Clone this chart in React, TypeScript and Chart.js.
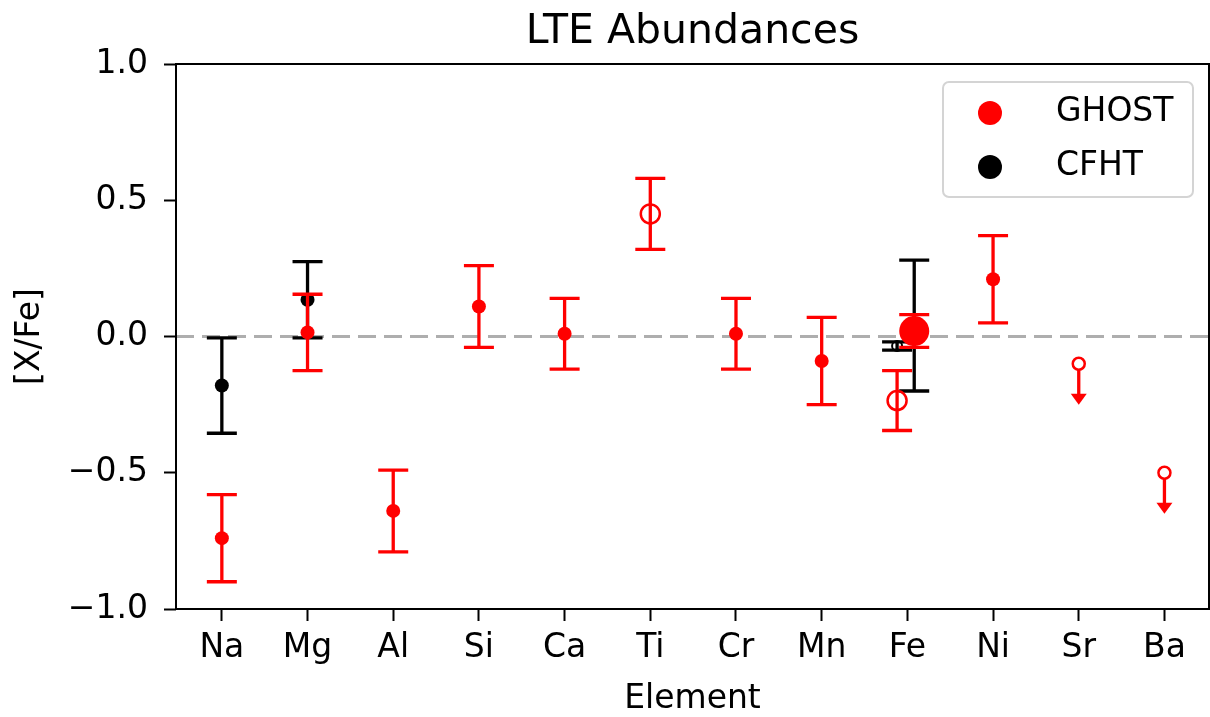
import React, { useEffect, useRef } from "react";
import { Chart, registerables } from "chart.js";

Chart.register(...registerables);

const FONT = "'DejaVu Sans', 'Liberation Sans', sans-serif";

// Categories (x tick labels)
const elements = ["Na", "Mg", "Al", "Si", "Ca", "Ti", "Cr", "Mn", "Fe", "Ni", "Sr", "Ba"];
const yTicks = [-1.0, -0.5, 0.0, 0.5, 1.0];

// GHOST – filled points
const ghostX = [0, 1, 2, 3, 4, 6, 7, 9];
const ghostY = [-0.74, 0.015, -0.64, 0.11, 0.01, 0.01, -0.09, 0.21];
const ghostErr = [0.16, 0.14, 0.15, 0.15, 0.13, 0.13, 0.16, 0.16];

// GHOST – open points
const ghostOpenX = [5, 7.88];
const ghostOpenY = [0.45, -0.235];
const ghostOpenErr = [0.13, 0.11];

// GHOST – big Fe point
const ghostFeX = [8.08];
const ghostFeY = [0.02];
const ghostFeErr = [0.06];

// GHOST – upper limits
const ghostLimX = [10, 11];
const ghostLimY = [-0.1, -0.5];
const limitArrowLen = 0.15;

// CFHT – filled points
const cfhtX = [0, 1, 8.08];
const cfhtY = [-0.18, 0.135, 0.04];
const cfhtErr = [0.175, 0.14, 0.24];

// CFHT – small open Fe point
const cfhtOpenX = [7.88];
const cfhtOpenY = [-0.035];
const cfhtOpenErr = [0.015];

const legendLabels = ["GHOST", "CFHT"];
const legendColors = ["#ff0000", "#000000"];

const pts = (xs: number[], ys: number[]) => xs.map((x, i) => ({ x, y: ys[i] }));

const bgPlugin = {
  id: "bg",
  beforeDraw(chart: any) {
    const ctx = chart.ctx;
    ctx.save();
    ctx.fillStyle = "#ffffff";
    ctx.fillRect(0, 0, chart.width, chart.height);
    ctx.restore();
  },
};

const zeroLinePlugin = {
  id: "zeroLine",
  beforeDatasetsDraw(chart: any) {
    const { ctx, chartArea } = chart;
    const y = chart.scales.y.getPixelForValue(0);
    ctx.save();
    ctx.strokeStyle = "rgba(160,160,160,0.85)";
    ctx.lineWidth = 3;
    ctx.setLineDash([18, 8]);
    ctx.beginPath();
    ctx.moveTo(chartArea.left, y);
    ctx.lineTo(chartArea.right, y);
    ctx.stroke();
    ctx.restore();
  },
};

const errorBarPlugin = {
  id: "errorBars",
  beforeDatasetDraw(chart: any, args: any) {
    const ds: any = chart.data.datasets[args.index];
    const xs = chart.scales.x;
    const ys = chart.scales.y;
    const ctx = chart.ctx;
    const cap = 15;
    ctx.save();
    ctx.strokeStyle = ds.errColor;
    ctx.fillStyle = ds.errColor;
    ctx.lineWidth = 3.3;
    ds.data.forEach((p: any, i: number) => {
      const px = xs.getPixelForValue(p.x);
      const e = ds.errors ? ds.errors[i] : null;
      if (e != null) {
        const top = ys.getPixelForValue(p.y + e);
        const bot = ys.getPixelForValue(p.y - e);
        ctx.beginPath();
        ctx.moveTo(px, top);
        ctx.lineTo(px, bot);
        ctx.moveTo(px - cap, top);
        ctx.lineTo(px + cap, top);
        ctx.moveTo(px - cap, bot);
        ctx.lineTo(px + cap, bot);
        ctx.stroke();
      }
      if (ds.upperLimit) {
        const y0 = ys.getPixelForValue(p.y);
        const y1 = ys.getPixelForValue(p.y - limitArrowLen);
        ctx.beginPath();
        ctx.moveTo(px, y0);
        ctx.lineTo(px, y1 - 10);
        ctx.stroke();
        ctx.beginPath();
        ctx.moveTo(px - 8, y1 - 11);
        ctx.lineTo(px + 8, y1 - 11);
        ctx.lineTo(px, y1);
        ctx.closePath();
        ctx.fill();
      }
    });
    ctx.restore();
  },
};

const decorPlugin = {
  id: "decor",
  afterDraw(chart: any) {
    const { ctx, chartArea } = chart;
    const cx = (chartArea.left + chartArea.right) / 2;
    const cy = (chartArea.top + chartArea.bottom) / 2;
    ctx.save();
    // frame
    ctx.strokeStyle = "#000";
    ctx.lineWidth = 2;
    ctx.strokeRect(chartArea.left, chartArea.top, chartArea.right - chartArea.left, chartArea.bottom - chartArea.top);

    ctx.fillStyle = "#000";
    // title
    ctx.font = `41px ${FONT}`;
    ctx.textAlign = "center";
    ctx.textBaseline = "alphabetic";
    ctx.fillText("LTE Abundances", cx, chartArea.top - 21);
    // x label
    ctx.font = `33px ${FONT}`;
    ctx.fillText("Element", cx, chartArea.bottom + 99);
    // y label
    ctx.save();
    ctx.translate(30, cy);
    ctx.rotate(-Math.PI / 2);
    ctx.textBaseline = "middle";
    ctx.fillText("[X/Fe]", 0, 0);
    ctx.restore();

    // legend
    const lw = 250;
    const lh = 115;
    const lx = chartArea.right - 16 - lw;
    const ly = chartArea.top + 18;
    ctx.beginPath();
    (ctx as any).roundRect(lx, ly, lw, lh, 6);
    ctx.fillStyle = "rgba(255,255,255,0.8)";
    ctx.fill();
    ctx.strokeStyle = "#d4d4d4";
    ctx.lineWidth = 2;
    ctx.stroke();
    legendLabels.forEach((lab, i) => {
      const ry = ly + 31 + i * 54;
      ctx.beginPath();
      ctx.arc(lx + 47, ry, 12, 0, Math.PI * 2);
      ctx.fillStyle = legendColors[i];
      ctx.fill();
      ctx.fillStyle = "#000";
      ctx.font = `33px ${FONT}`;
      ctx.textAlign = "left";
      ctx.textBaseline = "middle";
      ctx.fillText(lab, lx + 113, ry - 1);
    });
    ctx.restore();
  },
};

export default function App() {
  const ref = useRef<HTMLCanvasElement>(null);
  useEffect(() => {
    document.body.style.margin = "0";
    const canvas = ref.current!;
    const red = "#ff0000";
    const black = "#000000";
    const chart = new Chart(canvas, {
      type: "scatter",
      data: {
        datasets: [
          {
            label: "GHOST",
            data: pts(ghostX, ghostY),
            errors: ghostErr,
            errColor: red,
            pointRadius: 7,
            pointBorderWidth: 0,
            backgroundColor: red,
            borderColor: red,
          } as any,
          {
            label: "GHOST open",
            data: pts(ghostOpenX, ghostOpenY),
            errors: ghostOpenErr,
            errColor: red,
            pointRadius: 9.5,
            pointBorderWidth: 2.5,
            backgroundColor: "rgba(0,0,0,0)",
            borderColor: red,
          } as any,
          {
            label: "GHOST Fe",
            data: pts(ghostFeX, ghostFeY),
            errors: ghostFeErr,
            errColor: red,
            pointRadius: 15,
            pointBorderWidth: 0,
            backgroundColor: red,
            borderColor: red,
          } as any,
          {
            label: "GHOST limits",
            data: pts(ghostLimX, ghostLimY),
            upperLimit: true,
            errColor: red,
            pointRadius: 6,
            pointBorderWidth: 2.5,
            backgroundColor: "rgba(255,255,255,1)",
            borderColor: red,
          } as any,
          {
            label: "CFHT",
            data: pts(cfhtX, cfhtY),
            errors: cfhtErr,
            errColor: black,
            pointRadius: 7,
            pointBorderWidth: 0,
            backgroundColor: black,
            borderColor: black,
          } as any,
          {
            label: "CFHT open",
            data: pts(cfhtOpenX, cfhtOpenY),
            errors: cfhtOpenErr,
            errColor: black,
            pointRadius: 5,
            pointBorderWidth: 2,
            backgroundColor: "rgba(0,0,0,0)",
            borderColor: black,
          } as any,
        ],
      },
      options: {
        animation: false,
        responsive: false,
        devicePixelRatio: 1,
        events: [],
        layout: { autoPadding: false, padding: { top: 64, right: 1, left: 0, bottom: 0 } },
        font: { family: FONT },
        plugins: {
          legend: { display: false },
          tooltip: { enabled: false },
          title: { display: false },
        },
        scales: {
          x: {
            type: "linear",
            min: -0.535,
            max: 11.52,
            afterBuildTicks: (s: any) => {
              s.ticks = elements.map((_, i) => ({ value: i }));
            },
            afterFit: (s: any) => {
              s.height = 108;
              s.paddingLeft = 0;
              s.paddingRight = 0;
            },
            ticks: {
              autoSkip: false,
              maxRotation: 0,
              padding: 8,
              color: "#000",
              font: { size: 33, family: FONT },
              callback: (v: any) => elements[Math.round(Number(v))] ?? "",
            },
            grid: { drawOnChartArea: false, drawTicks: true, tickLength: 12, tickWidth: 2, tickColor: "#000" },
            border: { display: false },
          },
          y: {
            type: "linear",
            min: -1,
            max: 1,
            afterBuildTicks: (s: any) => {
              s.ticks = yTicks.map((v) => ({ value: v }));
            },
            afterFit: (s: any) => {
              s.width = 176;
            },
            ticks: {
              padding: 16,
              color: "#000",
              font: { size: 33, family: FONT },
              callback: (v: any) => Number(v).toFixed(1).replace("-", "\u2212"),
            },
            grid: { drawOnChartArea: false, drawTicks: true, tickLength: 12, tickWidth: 2, tickColor: "#000" },
            border: { display: false },
          },
        },
      } as any,
      plugins: [bgPlugin, zeroLinePlugin, errorBarPlugin, decorPlugin],
    });
    return () => chart.destroy();
  }, []);
  return (
    <div style={{ position: "absolute", left: 0, top: 0, width: 1210, height: 717 }}>
      <canvas ref={ref} width={1210} height={717} style={{ width: 1210, height: 717, display: "block" }} />
    </div>
  );
}
